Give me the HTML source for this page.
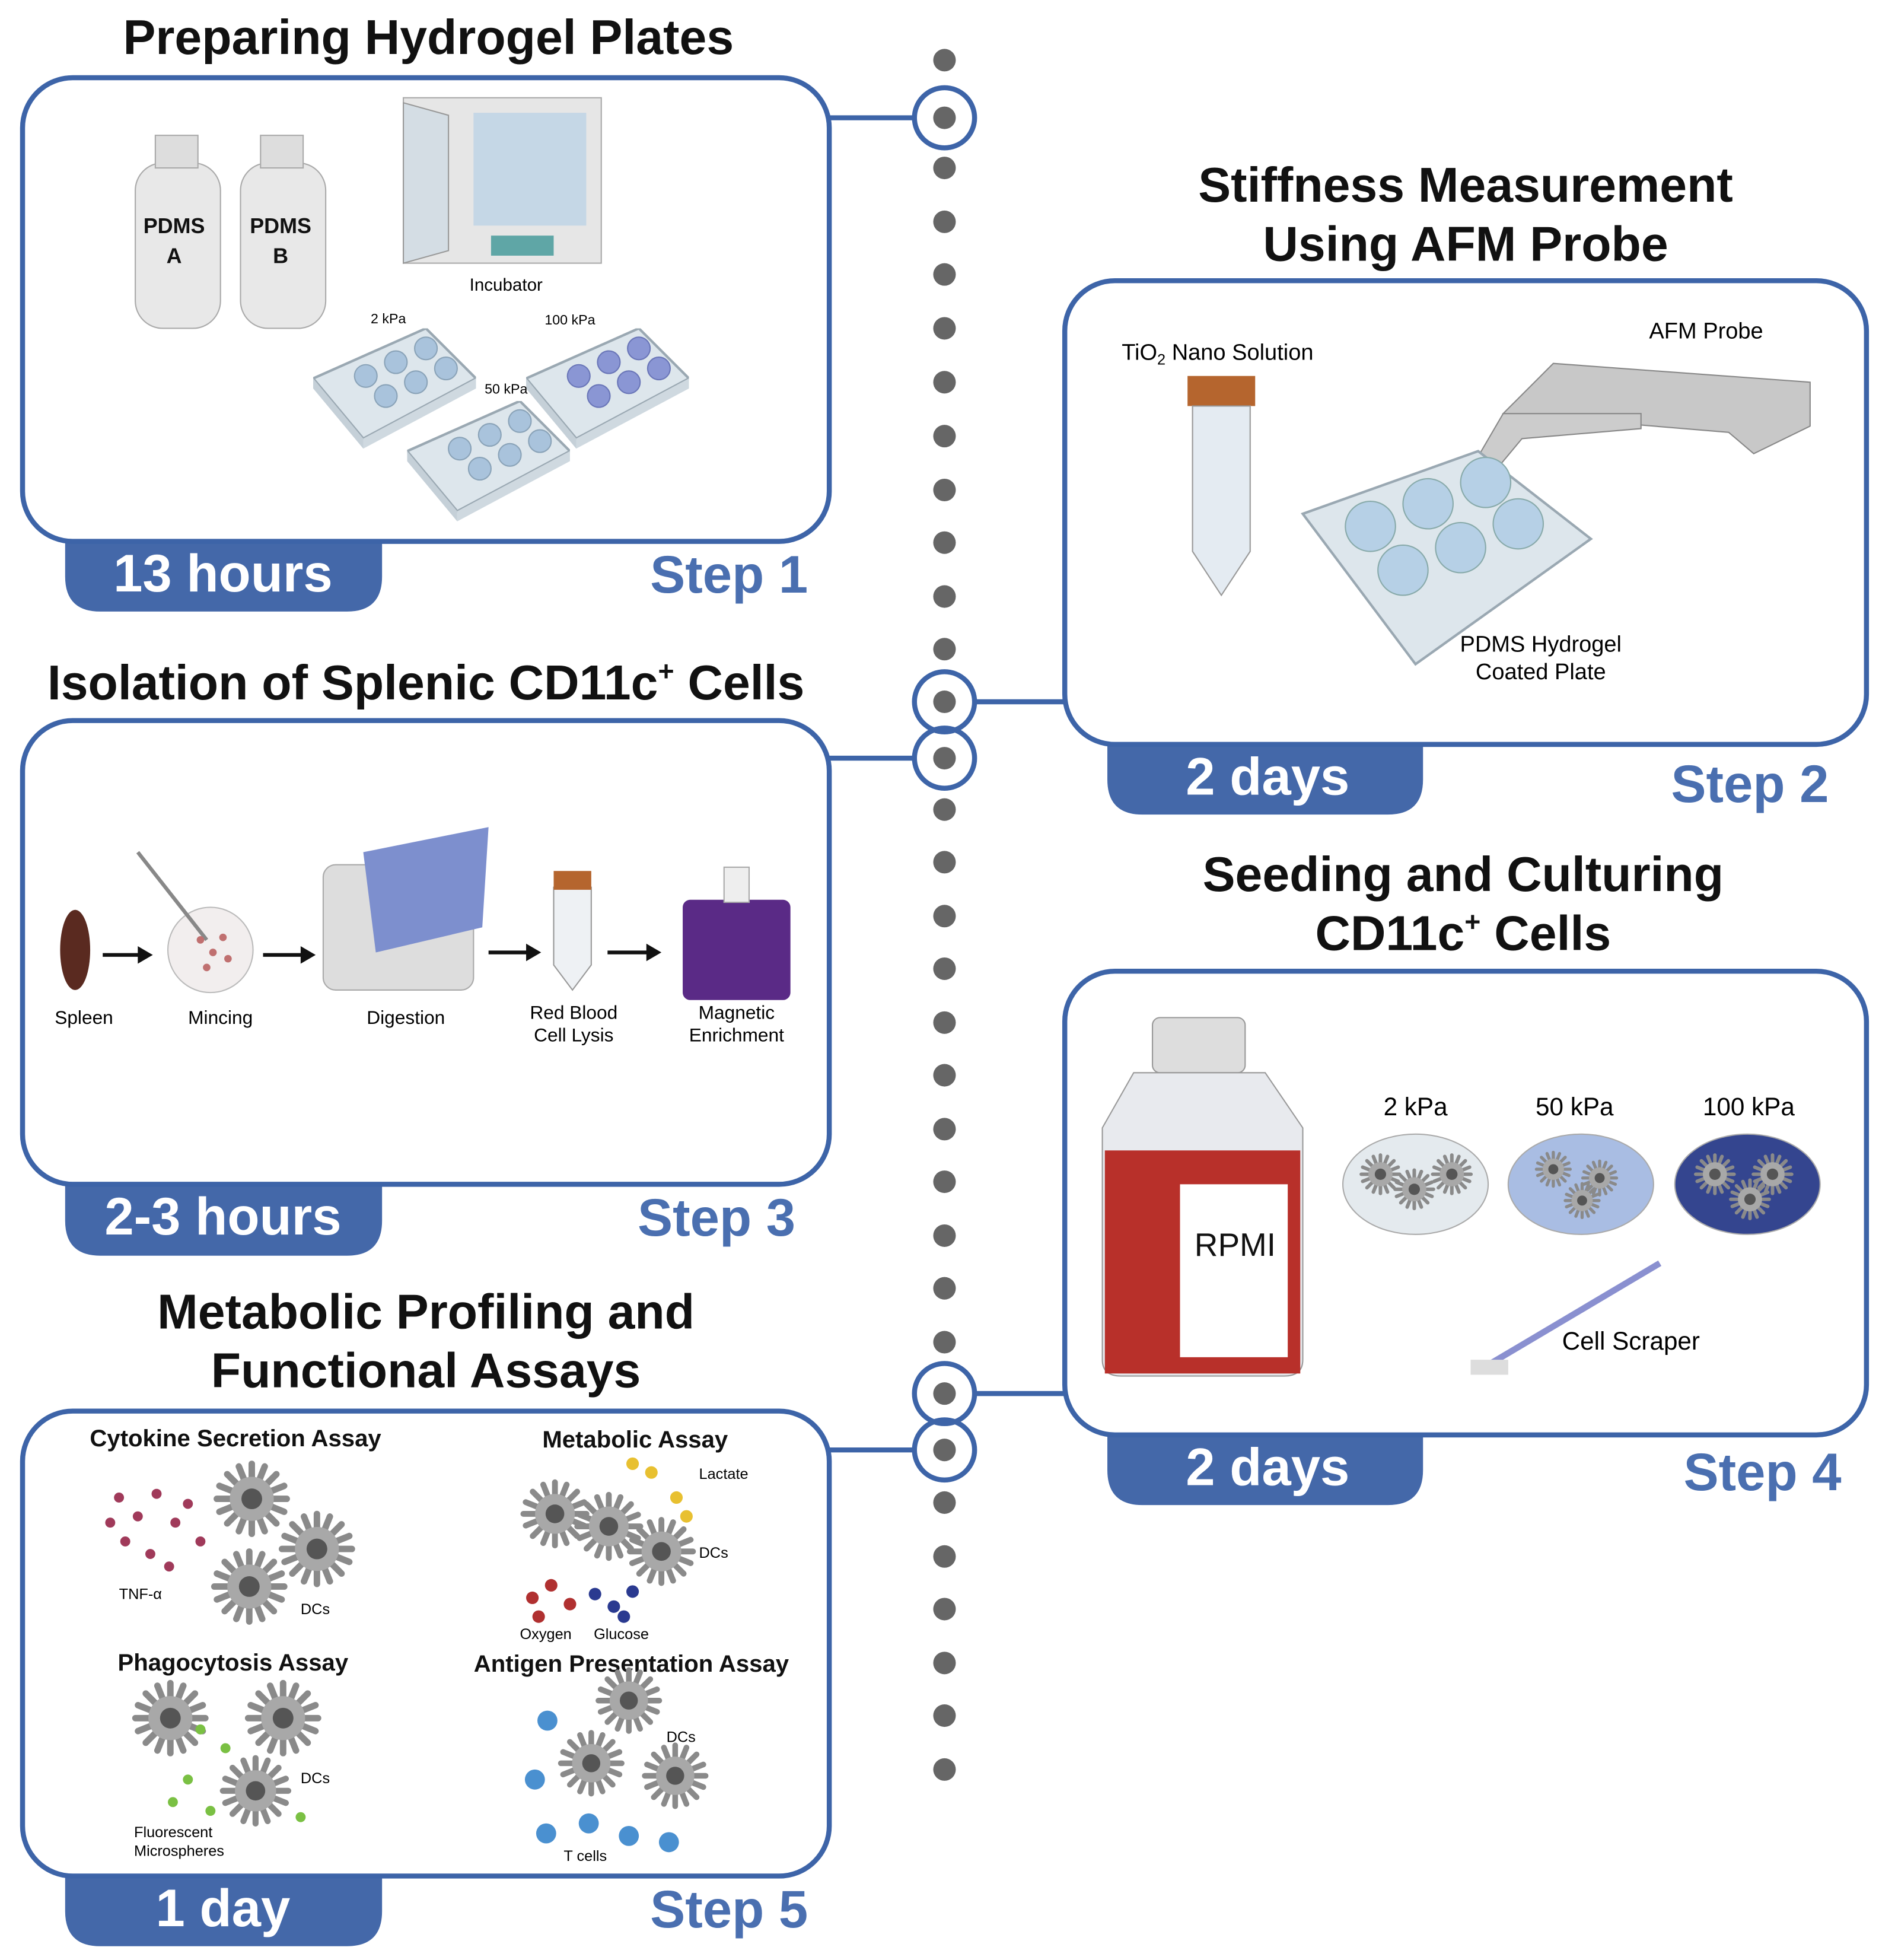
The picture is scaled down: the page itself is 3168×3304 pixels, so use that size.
<!DOCTYPE html>
<html><head><meta charset="utf-8"><style>
html,body{margin:0;padding:0;background:#fff}
svg{display:block}
text{font-family:"Liberation Sans",sans-serif}
</style></head><body>
<svg width="3168" height="3304" viewBox="0 0 1500 1564" preserveAspectRatio="none" xmlns="http://www.w3.org/2000/svg">
<defs>
<symbol id="dc" viewBox="-30 -30 60 60">
<g stroke="#8a8a8a" stroke-width="5" stroke-linecap="round">
<line x1="0" y1="-27" x2="0" y2="27"/><line x1="-27" y1="0" x2="27" y2="0"/>
<line x1="-19" y1="-19" x2="19" y2="19"/><line x1="-19" y1="19" x2="19" y2="-19"/>
<line x1="-10" y1="-25" x2="10" y2="25"/><line x1="-25" y1="-10" x2="25" y2="10"/>
<line x1="-25" y1="10" x2="25" y2="-10"/><line x1="-10" y1="25" x2="10" y2="-25"/>
</g>
<circle r="17" fill="#a8a8a8"/><circle r="8" fill="#555"/>
</symbol>
<symbol id="plate" viewBox="0 0 130 96">
<polygon points="0,40 90,0 130,40 40,88" fill="#dde6ec" stroke="#9aa8b2" stroke-width="2"/>
<polygon points="0,40 40,88 40,96 0,48" fill="#c5d0d8"/>
<polygon points="40,88 130,40 130,48 40,96" fill="#cfd9e0"/>
</symbol>
</defs>

<g fill="#666">
<circle cx="754" cy="48" r="9"/><circle cx="754" cy="94" r="9"/><circle cx="754" cy="134" r="9"/><circle cx="754" cy="177" r="9"/><circle cx="754" cy="219" r="9"/><circle cx="754" cy="262" r="9"/><circle cx="754" cy="305" r="9"/><circle cx="754" cy="348" r="9"/><circle cx="754" cy="391" r="9"/><circle cx="754" cy="433" r="9"/><circle cx="754" cy="476" r="9"/><circle cx="754" cy="518" r="9"/><circle cx="754" cy="560" r="9"/><circle cx="754" cy="605" r="9"/><circle cx="754" cy="646" r="9"/><circle cx="754" cy="688" r="9"/><circle cx="754" cy="731" r="9"/><circle cx="754" cy="773" r="9"/><circle cx="754" cy="816" r="9"/><circle cx="754" cy="858" r="9"/><circle cx="754" cy="901" r="9"/><circle cx="754" cy="943" r="9"/><circle cx="754" cy="986" r="9"/><circle cx="754" cy="1028" r="9"/><circle cx="754" cy="1071" r="9"/><circle cx="754" cy="1112" r="9"/><circle cx="754" cy="1157" r="9"/><circle cx="754" cy="1199" r="9"/><circle cx="754" cy="1242" r="9"/><circle cx="754" cy="1284" r="9"/><circle cx="754" cy="1327" r="9"/><circle cx="754" cy="1369" r="9"/><circle cx="754" cy="1412" r="9"/>
</g>
<g fill="none" stroke="#3d64a8" stroke-width="4">
<circle cx="754" cy="94" r="24"/><circle cx="754" cy="560" r="24"/><circle cx="754" cy="605" r="24"/><circle cx="754" cy="1112" r="24"/><circle cx="754" cy="1157" r="24"/>
<line x1="662" y1="94" x2="730" y2="94"/><line x1="662" y1="605" x2="730" y2="605"/><line x1="662" y1="1157" x2="730" y2="1157"/>
<line x1="850" y1="560" x2="778" y2="560"/><line x1="850" y1="1112" x2="778" y2="1112"/>
</g>

<g fill="#4468a9">
<path d="M52 432H305V460Q305 488 277 488H80Q52 488 52 460Z"/>
<path d="M52 945H305V974Q305 1002 277 1002H80Q52 1002 52 974Z"/>
<path d="M52 1497H305V1525Q305 1553 277 1553H80Q52 1553 52 1525Z"/>
<path d="M884 594H1136V622Q1136 650 1108 650H912Q884 650 884 622Z"/>
<path d="M884 1145H1136V1173Q1136 1201 1108 1201H912Q884 1201 884 1173Z"/>
</g>
<g fill="none" stroke="#3d64a8" stroke-width="4">
<rect x="18" y="62" width="644" height="370" rx="40"/>
<rect x="18" y="575" width="644" height="370" rx="40"/>
<rect x="18" y="1126" width="644" height="371" rx="40"/>
<rect x="850" y="224" width="640" height="370" rx="40"/>
<rect x="850" y="775" width="640" height="370" rx="40"/>
</g>

<g font-weight="bold" fill="#fff" font-size="42" text-anchor="middle">
<text x="178" y="472">13 hours</text><text x="178" y="985">2-3 hours</text><text x="178" y="1537">1 day</text>
<text x="1012" y="634">2 days</text><text x="1012" y="1185">2 days</text>
</g>
<g font-weight="bold" fill="#4a6fb0" font-size="42" text-anchor="end">
<text x="645" y="473">Step 1</text><text x="635" y="986">Step 3</text><text x="645" y="1538">Step 5</text>
<text x="1460" y="640">Step 2</text><text x="1470" y="1189">Step 4</text>
</g>
<g font-weight="bold" fill="#111" font-size="39" text-anchor="middle">
<text x="342" y="43">Preparing Hydrogel Plates</text>
<text x="1170" y="161">Stiffness Measurement</text><text x="1170" y="208">Using AFM Probe</text>
<text x="340" y="558">Isolation of Splenic CD11c<tspan font-size="22" dy="-15">+</tspan><tspan dy="15"> Cells</tspan></text>
<text x="1168" y="711">Seeding and Culturing</text><text x="1168" y="758">CD11c<tspan font-size="22" dy="-15">+</tspan><tspan dy="15"> Cells</tspan></text>
<text x="340" y="1060">Metabolic Profiling and</text><text x="340" y="1107">Functional Assays</text>
</g>

<g>
<rect x="108" y="130" width="68" height="132" rx="22" fill="#e8e8e8" stroke="#aaa"/><rect x="124" y="108" width="34" height="26" fill="#ddd" stroke="#aaa"/>
<rect x="192" y="130" width="68" height="132" rx="22" fill="#e8e8e8" stroke="#aaa"/><rect x="208" y="108" width="34" height="26" fill="#ddd" stroke="#aaa"/>
<g font-size="17" font-weight="bold" text-anchor="middle" fill="#111"><text x="139" y="186">PDMS</text><text x="139" y="210">A</text><text x="224" y="186">PDMS</text><text x="224" y="210">B</text></g>
<rect x="322" y="78" width="158" height="132" fill="#e6e6e6" stroke="#aaa"/><rect x="378" y="90" width="90" height="90" fill="#bdd3e6" opacity=".8"/><rect x="392" y="188" width="50" height="16" fill="#5fa6a6"/>
<polygon points="322,82 358,92 358,200 322,210" fill="#d4dde4" stroke="#999"/>
<text x="404" y="232" font-size="14" text-anchor="middle">Incubator</text>
<use href="#plate" x="250" y="262" width="130" height="96"/><use href="#plate" x="420" y="262" width="130" height="96"/><use href="#plate" x="325" y="320" width="130" height="96"/>
<g fill="#a9c3dc" stroke="#8aa3b8"><circle cx="292" cy="300" r="9"/><circle cx="316" cy="289" r="9"/><circle cx="340" cy="278" r="9"/><circle cx="308" cy="316" r="9"/><circle cx="332" cy="305" r="9"/><circle cx="356" cy="294" r="9"/>
<circle cx="367" cy="358" r="9"/><circle cx="391" cy="347" r="9"/><circle cx="415" cy="336" r="9"/><circle cx="383" cy="374" r="9"/><circle cx="407" cy="363" r="9"/><circle cx="431" cy="352" r="9"/></g>
<g fill="#8a96d4" stroke="#6a76b8"><circle cx="462" cy="300" r="9"/><circle cx="486" cy="289" r="9"/><circle cx="510" cy="278" r="9"/><circle cx="478" cy="316" r="9"/><circle cx="502" cy="305" r="9"/><circle cx="526" cy="294" r="9"/></g>
<g font-size="11" text-anchor="middle"><text x="310" y="258">2 kPa</text><text x="455" y="259">100 kPa</text><text x="404" y="314">50 kPa</text></g>
</g>

<g>
<text x="972" y="287" font-size="18" text-anchor="middle">TiO<tspan font-size="12" dy="4">2</tspan><tspan dy="-4"> Nano Solution</tspan></text>
<rect x="948" y="300" width="54" height="24" fill="#b5652e"/>
<path d="M952 324H998V440L975 475L952 440Z" fill="#e4ebf2" stroke="#999"/>
<text x="1362" y="270" font-size="18" text-anchor="middle">AFM Probe</text>
<polygon points="1200,330 1240,290 1445,305 1445,340 1400,362 1380,345" fill="#c8c8c8" stroke="#888"/>
<polygon points="1200,330 1172,378 1190,380 1215,350 1310,342 1310,330" fill="#ccc" stroke="#888"/>
<polygon points="1040,410 1180,360 1270,430 1130,530" fill="#dde6ec" stroke="#9aa8b2" stroke-width="2"/>
<g fill="#b6d0e6" stroke="#8aa"><circle cx="1094" cy="420" r="20"/><circle cx="1140" cy="402" r="20"/><circle cx="1186" cy="385" r="20"/><circle cx="1120" cy="455" r="20"/><circle cx="1166" cy="437" r="20"/><circle cx="1212" cy="418" r="20"/></g>
<text x="1230" y="520" font-size="18" text-anchor="middle">PDMS Hydrogel</text><text x="1230" y="542" font-size="18" text-anchor="middle">Coated Plate</text>
</g>

<g>
<ellipse cx="60" cy="758" rx="12" ry="32" fill="#5a2a20"/>
<circle cx="168" cy="758" r="34" fill="#f2eeee" stroke="#bbb"/><line x1="110" y1="680" x2="165" y2="750" stroke="#888" stroke-width="3"/>
<g fill="#c07070"><circle cx="160" cy="750" r="3"/><circle cx="170" cy="760" r="3"/><circle cx="178" cy="748" r="3"/><circle cx="165" cy="772" r="3"/><circle cx="182" cy="765" r="3"/></g>
<rect x="258" y="690" width="120" height="100" rx="10" fill="#ddd" stroke="#aaa"/><polygon points="290,680 390,660 385,740 300,760" fill="#7d8fce"/>
<path d="M442 708H472V770L457 790L442 770Z" fill="#eef1f4" stroke="#999"/><rect x="442" y="695" width="30" height="15" fill="#b5652e"/>
<rect x="545" y="718" width="86" height="80" rx="6" fill="#5a2a86"/><rect x="578" y="692" width="20" height="28" fill="#eee" stroke="#aaa"/>
<g stroke="#111" stroke-width="3"><line x1="82" y1="762" x2="112" y2="762"/><line x1="210" y1="762" x2="242" y2="762"/><line x1="390" y1="760" x2="422" y2="760"/><line x1="485" y1="760" x2="518" y2="760"/></g>
<g fill="#111"><polygon points="122,762 110,755 110,769"/><polygon points="252,762 240,755 240,769"/><polygon points="432,760 420,753 420,767"/><polygon points="528,760 516,753 516,767"/></g>
<g font-size="15" text-anchor="middle"><text x="67" y="817">Spleen</text><text x="176" y="817">Mincing</text><text x="324" y="817">Digestion</text><text x="458" y="813">Red Blood</text><text x="458" y="831">Cell Lysis</text><text x="588" y="813">Magnetic</text><text x="588" y="831">Enrichment</text></g>
</g>

<g>
<rect x="920" y="812" width="74" height="44" rx="6" fill="#ddd" stroke="#999"/>
<path d="M905 856H1010L1040 900V1085Q1040 1098 1025 1098H895Q880 1098 880 1085V900Z" fill="#e8eaee" stroke="#999"/>
<rect x="882" y="918" width="156" height="178" fill="#b8302a"/>
<rect x="942" y="945" width="86" height="138" fill="#fff"/>
<text x="986" y="1002" font-size="26" text-anchor="middle" fill="#111">RPMI</text>
<g font-size="20" text-anchor="middle"><text x="1130" y="890">2 kPa</text><text x="1257" y="890">50 kPa</text><text x="1396" y="890">100 kPa</text></g>
<ellipse cx="1130" cy="945" rx="58" ry="40" fill="#e4eaee" stroke="#aaa"/>
<ellipse cx="1262" cy="945" rx="58" ry="40" fill="#a9bde3" stroke="#aaa"/>
<ellipse cx="1395" cy="945" rx="58" ry="40" fill="#34458f" stroke="#aaa"/>
<use href="#dc" x="1085" y="920" width="34" height="34"/><use href="#dc" x="1112" y="932" width="34" height="34"/><use href="#dc" x="1142" y="920" width="34" height="34"/>
<use href="#dc" x="1225" y="918" width="30" height="30"/><use href="#dc" x="1262" y="925" width="30" height="30"/><use href="#dc" x="1248" y="943" width="30" height="30"/>
<use href="#dc" x="1352" y="920" width="34" height="34"/><use href="#dc" x="1398" y="920" width="34" height="34"/><use href="#dc" x="1380" y="940" width="34" height="34"/>
<line x1="1325" y1="1008" x2="1190" y2="1088" stroke="#8a90d0" stroke-width="5"/><rect x="1174" y="1085" width="30" height="12" fill="#ddd"/>
<text x="1302" y="1077" font-size="20" text-anchor="middle">Cell Scraper</text>
</g>

<g>
<g font-size="19" font-weight="bold" text-anchor="middle" fill="#111"><text x="188" y="1154">Cytokine Secretion Assay</text><text x="507" y="1155">Metabolic Assay</text><text x="186" y="1333">Phagocytosis Assay</text><text x="504" y="1334">Antigen Presentation Assay</text></g>
<g fill="#a03a5a"><circle cx="95" cy="1195" r="4"/><circle cx="110" cy="1210" r="4"/><circle cx="125" cy="1192" r="4"/><circle cx="140" cy="1215" r="4"/><circle cx="100" cy="1230" r="4"/><circle cx="120" cy="1240" r="4"/><circle cx="150" cy="1200" r="4"/><circle cx="135" cy="1250" r="4"/><circle cx="160" cy="1230" r="4"/><circle cx="88" cy="1215" r="4"/></g>
<use href="#dc" x="170" y="1165" width="62" height="62"/><use href="#dc" x="222" y="1205" width="62" height="62"/><use href="#dc" x="168" y="1235" width="62" height="62"/>
<g font-size="12"><text x="95" y="1276">TNF-α</text><text x="240" y="1288">DCs</text><text x="558" y="1180">Lactate</text><text x="558" y="1243">DCs</text><text x="415" y="1308">Oxygen</text><text x="474" y="1308">Glucose</text><text x="240" y="1423">DCs</text><text x="107" y="1466">Fluorescent</text><text x="107" y="1481">Microspheres</text><text x="532" y="1390">DCs</text><text x="450" y="1485">T cells</text></g>
<use href="#dc" x="415" y="1180" width="56" height="56"/><use href="#dc" x="458" y="1190" width="56" height="56"/><use href="#dc" x="500" y="1210" width="56" height="56"/>
<g fill="#e8c030"><circle cx="505" cy="1168" r="5"/><circle cx="520" cy="1175" r="5"/><circle cx="540" cy="1195" r="5"/><circle cx="548" cy="1210" r="5"/></g>
<g fill="#b03030"><circle cx="425" cy="1275" r="5"/><circle cx="440" cy="1265" r="5"/><circle cx="455" cy="1280" r="5"/><circle cx="430" cy="1290" r="5"/></g>
<g fill="#2a3a90"><circle cx="475" cy="1272" r="5"/><circle cx="490" cy="1282" r="5"/><circle cx="505" cy="1270" r="5"/><circle cx="498" cy="1290" r="5"/></g>
<use href="#dc" x="105" y="1340" width="62" height="62"/><use href="#dc" x="195" y="1340" width="62" height="62"/><use href="#dc" x="175" y="1400" width="58" height="58"/>
<g fill="#7ac043"><circle cx="160" cy="1380" r="4"/><circle cx="180" cy="1395" r="4"/><circle cx="150" cy="1420" r="4"/><circle cx="138" cy="1438" r="4"/><circle cx="168" cy="1445" r="4"/><circle cx="240" cy="1450" r="4"/></g>
<use href="#dc" x="475" y="1330" width="54" height="54"/><use href="#dc" x="445" y="1380" width="54" height="54"/><use href="#dc" x="512" y="1390" width="54" height="54"/>
<g fill="#4a90d0"><circle cx="437" cy="1373" r="8"/><circle cx="427" cy="1420" r="8"/><circle cx="436" cy="1463" r="8"/><circle cx="470" cy="1455" r="8"/><circle cx="502" cy="1465" r="8"/><circle cx="534" cy="1470" r="8"/></g>
</g>
</svg>
</body></html>
